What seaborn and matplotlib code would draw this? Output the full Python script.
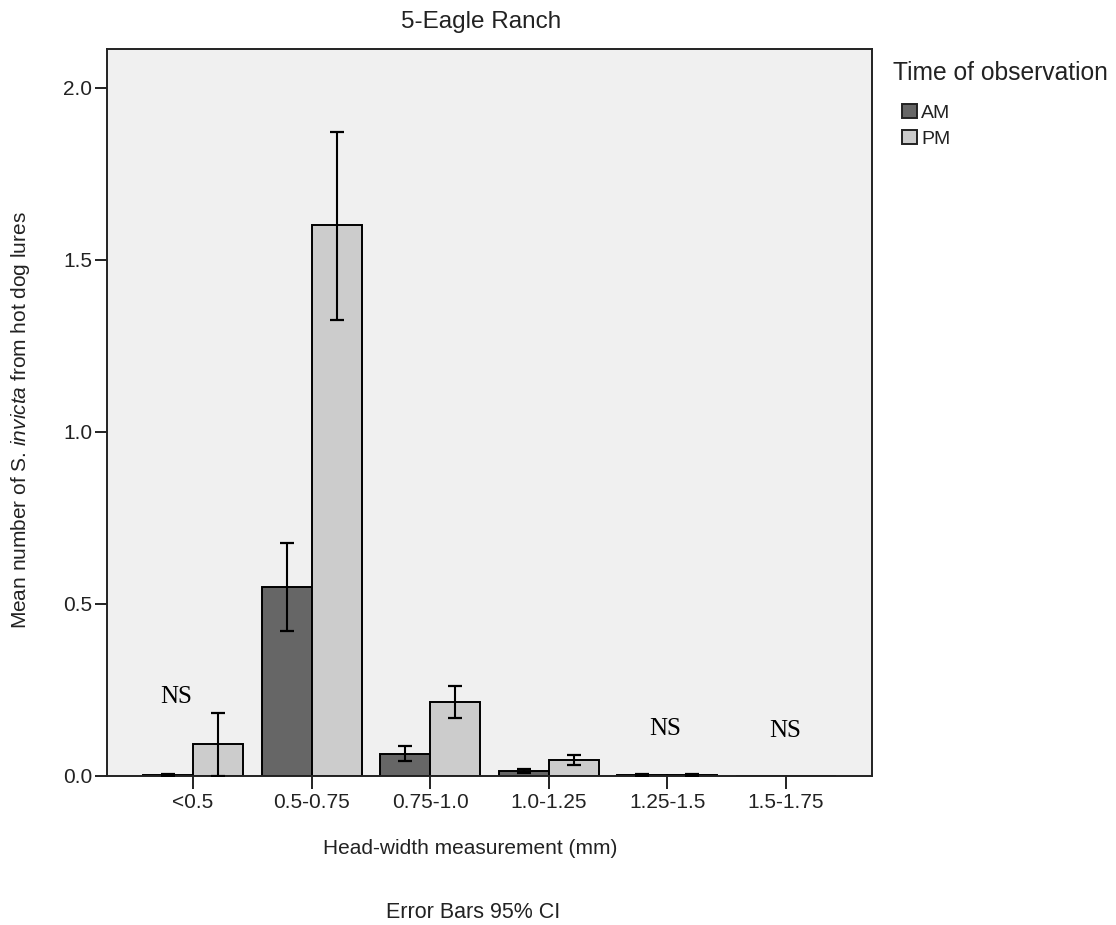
import matplotlib
matplotlib.use("Agg")
import matplotlib.pyplot as plt
from matplotlib.patches import Patch
import numpy as np
import pandas as pd
import seaborn as sns

# Head-width classes and the mean counts per lure, with 95% CI bounds
categories = ["<0.5", "0.5-0.75", "0.75-1.0", "1.0-1.25", "1.25-1.5", "1.5-1.75"]
am_mean = [0.003, 0.548, 0.065, 0.014, 0.004, 0.0]
am_low = [0.0, 0.420, 0.044, 0.008, 0.001, 0.0]
am_high = [0.006, 0.678, 0.087, 0.020, 0.007, 0.0]
pm_mean = [0.093, 1.600, 0.215, 0.047, 0.004, 0.0]
pm_low = [0.0, 1.326, 0.169, 0.031, 0.001, 0.0]
pm_high = [0.183, 1.873, 0.262, 0.061, 0.007, 0.0]
periods = ["AM", "PM"]
yticks = [0.0, 0.5, 1.0, 1.5, 2.0]

# NS markers: (category position, height)
ns_marks = [(-0.14, 0.23), (3.98, 0.137), (4.99, 0.131)]

sns.set_style("white")
plt.rcParams["font.family"] = ["Liberation Sans", "DejaVu Sans"]
plt.rcParams["mathtext.fontset"] = "custom"
plt.rcParams["mathtext.rm"] = "Liberation Sans"
plt.rcParams["mathtext.it"] = "Liberation Sans:italic"

df = pd.DataFrame({
    "cat": categories * 2,
    "period": ["AM"] * len(categories) + ["PM"] * len(categories),
    "mean": am_mean + pm_mean,
    "low": am_low + pm_low,
    "high": am_high + pm_high,
})

colors = {"AM": "#666666", "PM": "#cccccc"}
ink = "#222222"

fig = plt.figure(figsize=(11.16, 9.25), dpi=100)
ax = fig.add_axes([0.0959, 0.1611, 0.6855, 0.786])
ax.set_facecolor("#f0f0f0")

sns.barplot(data=df, x="cat", y="mean", hue="period", order=categories,
            hue_order=periods, palette=colors, width=0.845, gap=0,
            edgecolor="black", linewidth=1.4, errorbar=None, ax=ax,
            legend=False)

# confidence intervals drawn at the bar centres
for container, p in zip(ax.containers, periods):
    sub = df[df["period"] == p].set_index("cat").loc[categories]
    for bar, (_, row) in zip(container.patches, sub.iterrows()):
        if row["high"] - row["low"] <= 0:
            continue
        xc = bar.get_x() + bar.get_width() / 2
        ax.errorbar([xc], [row["mean"]],
                    yerr=[[row["mean"] - row["low"]], [row["high"] - row["mean"]]],
                    fmt="none", ecolor="black", elinewidth=1.5, capsize=4.7,
                    capthick=1.6, zorder=5)

for x, y in ns_marks:
    ax.text(x, y, "NS", ha="center", va="center", fontsize=18,
            family=["Liberation Serif", "DejaVu Serif"], color="black")

ax.set_xlim(-0.726, len(categories) - 1 + 0.726)
ax.set_ylim(0, 2.113)
ax.set_yticks(yticks)
ax.set_yticklabels([f"{v:.1f}" for v in yticks])

for s in ax.spines.values():
    s.set_visible(True)
    s.set_color(ink)
    s.set_linewidth(1.4)

ax.tick_params(axis="both", which="major", direction="out", colors=ink,
               labelcolor=ink, labelsize=15, width=1.4)
ax.tick_params(axis="y", length=8.5, pad=2)
ax.tick_params(axis="x", length=9.5, pad=3)
ax.tick_params(left=True, bottom=True)

ax.set_xlabel("Head-width measurement (mm)", fontsize=15, color=ink)
ax.xaxis.set_label_coords(0.4745, -0.086)
ax.set_ylabel(r"Mean number of S. $\mathit{invicta}$ from hot dog lures",
              fontsize=15, color=ink)
ax.yaxis.set_label_coords(-0.098, 0.49)

fig.text(481 / 1116, 1 - 22 / 925, "5-Eagle Ranch", ha="center", va="center",
         fontsize=17.5, color=ink)
fig.text(473 / 1116, 1 - 912 / 925, "Error Bars 95% CI", ha="center",
         va="center", fontsize=15.5, color=ink)

# legend: title on its own line, entries indented beneath it
fig.text(893 / 1116, 1 - 73 / 925, "Time of observation", ha="left",
         va="center", fontsize=17.7, color=ink)
handles = [Patch(facecolor=colors[p], edgecolor=ink, linewidth=1.4)
           for p in periods]
leg = ax.legend(handles, periods, loc="upper left",
                bbox_to_anchor=(902 / 1116, 1 - 104 / 925),
                bbox_transform=fig.transFigure, frameon=False,
                fontsize=14, handlelength=0.75, handleheight=0.75,
                handletextpad=0.25, labelspacing=0.42,
                borderaxespad=0, borderpad=0)
for t in leg.get_texts():
    t.set_color(ink)

fig.savefig("out.png", dpi=100, facecolor="white")
